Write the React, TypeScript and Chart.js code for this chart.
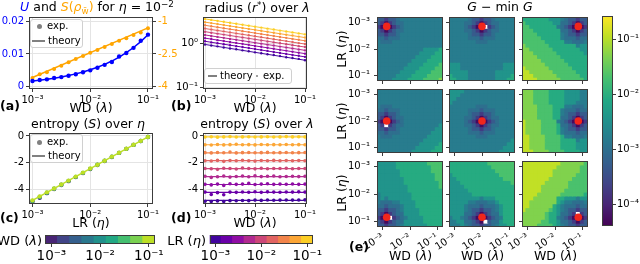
import React, { useEffect, useRef } from 'react';
import { Chart, registerables } from 'chart.js';

Chart.register(...registerables);

// ======================= DATA =======================
const LAMBDA = [0.001, 0.001334, 0.001778, 0.002371, 0.003162, 0.004217, 0.005623, 0.007499, 0.01, 0.01334, 0.01778, 0.02371, 0.03162, 0.04217, 0.05623, 0.07499, 0.1];
const ETA = [0.001, 0.001334, 0.001778, 0.002371, 0.003162, 0.004217, 0.005623, 0.007499, 0.01, 0.01334, 0.01778, 0.02371, 0.03162, 0.04217, 0.05623, 0.07499, 0.1];
const LINE_ENDS = [0.001, 0.1];
const LOG_TICKS = [0.001, 0.01, 0.1];
const LOG_TICK_LABELS = ['10⁻³', '10⁻²', '10⁻¹'];
const BLANK_LABELS = ['', '', ''];

// (a) U and S(rho_w) vs WD, eta = 1e-2
const U_EXP = [0.0016, 0.0019, 0.0021, 0.0025, 0.0028, 0.0032, 0.0037, 0.0043, 0.0049, 0.0057, 0.0066, 0.0075, 0.0092, 0.0103, 0.0119, 0.0141, 0.016];
const U_THEORY = [0.0016, 0.00185, 0.00213, 0.00246, 0.00285, 0.00329, 0.0038, 0.00438, 0.00506, 0.00584, 0.00675, 0.00779, 0.009, 0.0104, 0.012, 0.01385, 0.016];
const S_RHO_EXP = [-3.62, -3.45, -3.35, -3.2, -3.05, -2.89, -2.74, -2.59, -2.44, -2.32, -2.18, -2.03, -1.88, -1.76, -1.61, -1.5, -1.3];
const S_RHO_THEORY = [-3.6, -1.28];
const U_TICKS = [0, 0.01, 0.02];
const U_TICK_LABELS = ['0', '0.01', '0.02'];
const S_RHO_TICKS = [-4, -2.5, -1];
const S_RHO_TICK_LABELS = ['-4', '-2.5', '-1'];

// (b) radius r* over lambda, one series per LR (eta from 1e-3 to 1e-1)
const R_EXP_ETA_1 = [0.94, 0.89, 0.85, 0.8, 0.76, 0.73, 0.69, 0.66, 0.62, 0.59, 0.56, 0.54, 0.51, 0.48, 0.46, 0.44, 0.41];
const R_EXP_ETA_2 = [1.11, 1.05, 1.0, 0.95, 0.9, 0.86, 0.82, 0.78, 0.74, 0.7, 0.67, 0.63, 0.6, 0.57, 0.54, 0.52, 0.49];
const R_EXP_ETA_3 = [1.31, 1.25, 1.18, 1.13, 1.07, 1.02, 0.97, 0.92, 0.87, 0.83, 0.79, 0.75, 0.71, 0.68, 0.64, 0.61, 0.58];
const R_EXP_ETA_4 = [1.55, 1.47, 1.4, 1.33, 1.26, 1.2, 1.14, 1.09, 1.03, 0.98, 0.93, 0.89, 0.84, 0.8, 0.76, 0.72, 0.69];
const R_EXP_ETA_5 = [1.84, 1.74, 1.66, 1.58, 1.5, 1.42, 1.35, 1.29, 1.22, 1.16, 1.1, 1.05, 1.0, 0.95, 0.9, 0.86, 0.82];
const R_EXP_ETA_6 = [2.17, 2.06, 1.96, 1.87, 1.77, 1.68, 1.6, 1.52, 1.45, 1.38, 1.31, 1.24, 1.18, 1.12, 1.07, 1.01, 0.96];
const R_EXP_ETA_7 = [2.57, 2.44, 2.32, 2.21, 2.1, 1.99, 1.89, 1.8, 1.71, 1.63, 1.55, 1.47, 1.39, 1.33, 1.26, 1.2, 1.14];
const R_EXP_ETA_8 = [3.04, 2.89, 2.75, 2.61, 2.48, 2.36, 2.24, 2.13, 2.03, 1.93, 1.83, 1.74, 1.65, 1.57, 1.5, 1.42, 1.35];
const R_EXP_ETA_9 = [3.6, 3.42, 3.25, 3.09, 2.94, 2.79, 2.65, 2.52, 2.4, 2.28, 2.16, 2.06, 1.95, 1.86, 1.77, 1.68, 1.6];
const R_THEORY_START = [0.94, 1.11, 1.31, 1.55, 1.84, 2.17, 2.57, 3.04, 3.6];
const R_THEORY_END = [0.41, 0.49, 0.58, 0.69, 0.82, 0.96, 1.14, 1.35, 1.6];
const R_TICKS = [0.1, 1];
const R_TICK_LABELS = ['10⁻¹', '10⁰'];

// (c) entropy S over eta (a few WD series)
const S_ETA_WD_1 = [-4.92, -4.63, -4.28, -3.97, -3.67, -3.38, -3.08, -2.78, -2.48, -2.17, -1.87, -1.57, -1.27, -0.97, -0.67, -0.38, -0.08];
const S_ETA_WD_5 = [-4.87, -4.57, -4.25, -3.95, -3.65, -3.36, -3.06, -2.76, -2.46, -2.16, -1.86, -1.56, -1.27, -0.97, -0.67, -0.38, -0.08];
const S_ETA_WD_9 = [-4.82, -4.52, -4.22, -3.93, -3.63, -3.34, -3.04, -2.74, -2.44, -2.15, -1.85, -1.55, -1.26, -0.96, -0.66, -0.37, -0.07];
const S_ETA_THEORY = [-4.82, -0.07];
const S_TICKS = [-4, -2, 0];
const S_TICK_LABELS = ['-4', '-2', '0'];

// (d) entropy S over lambda, one series per LR
const S_LAM_ETA_1 = [-4.88, -4.9, -4.86, -4.9, -4.84, -4.85, -4.83, -4.84, -4.8, -4.82, -4.79, -4.81, -4.8, -4.79, -4.8, -4.79, -4.78];
const S_LAM_ETA_2 = [-4.2, -4.38, -4.24, -4.4, -4.2, -4.22, -4.19, -4.21, -4.17, -4.22, -4.18, -4.2, -4.21, -4.19, -4.2, -4.18, -4.2];
const S_LAM_ETA_3 = [-3.62, -3.66, -3.6, -3.7, -3.58, -3.62, -3.6, -3.55, -3.63, -3.6, -3.58, -3.62, -3.6, -3.61, -3.59, -3.62, -3.6];
const S_LAM_ETA_4 = [-3.02, -3.1, -3.05, -3.0, -3.08, -3.03, -3.0, -3.05, -2.98, -3.04, -3.02, -3.0, -3.05, -3.03, -3.01, -3.04, -3.02];
const S_LAM_ETA_5 = [-2.43, -2.45, -2.5, -2.42, -2.44, -2.47, -2.4, -2.44, -2.46, -2.42, -2.45, -2.43, -2.44, -2.42, -2.45, -2.43, -2.44];
const S_LAM_ETA_6 = [-1.85, -1.87, -1.83, -1.9, -1.84, -1.86, -1.82, -1.85, -1.88, -1.84, -1.85, -1.83, -1.86, -1.84, -1.85, -1.84, -1.86];
const S_LAM_ETA_7 = [-1.25, -1.27, -1.24, -1.26, -1.2, -1.27, -1.25, -1.24, -1.26, -1.25, -1.23, -1.26, -1.25, -1.24, -1.26, -1.25, -1.24];
const S_LAM_ETA_8 = [-0.66, -0.68, -0.64, -0.67, -0.65, -0.62, -0.66, -0.65, -0.67, -0.64, -0.66, -0.65, -0.66, -0.64, -0.66, -0.65, -0.66];
const S_LAM_ETA_9 = [-0.08, -0.06, -0.09, -0.07, -0.05, -0.08, -0.07, -0.06, -0.08, -0.07, -0.06, -0.08, -0.07, -0.05, -0.07, -0.06, -0.07];
const S_LAM_THEORY = [-4.82, -4.22, -3.63, -3.04, -2.44, -1.85, -1.26, -0.66, -0.07];

// colourbar levels (9 discrete values)
const LEVELS_9 = [0.001, 0.001778, 0.003162, 0.005623, 0.01, 0.01778, 0.03162, 0.05623, 0.1];

// (e) G - min G heat maps: digit = level (see HEAT_LEVEL_LOG10), x = exact zero (white)
const HEAT_LEVEL_LOG10 = [-4.3, -3.75, -3.3, -3.0, -2.8, -2.425, -2.05, -1.675, -1.3, -0.925];
const HEAT_1_1 = ['22122344444444444', '21012334444444444', '10x01234444444444', '21012334444444444', '22122344444444444', '33233344444444444', '43334444444444444', '44444444444444444', '44444444444455556', '44444444444555566', '44444444445555666', '44444444455556666', '44444444555566667', '44444445555666677', '44444455556666777', '44444555566667777', '44445555666677778'];
const HEAT_1_2 = ['44444322122344444', '44443321012334444', '444432100x1234444', '44443321012334444', '44444322122344444', '44444333233344444', '44444443334444444', '44444444444444444', '44444444444444444', '44444444444444444', '44444444444444444', '44444444444444444', '55544444444444555', '55544444444444555', '55555444444455555', '65555444444455556', '66555444444455566'];
const HEAT_1_3 = ['66666665554322122', '76666666553321012', '77666666643210x01', '77766666663321012', '77776666664322122', '77777666664333233', '77777766666443334', '87777776666666455', '88777777666666655', '88877777766666665', '88887777776666666', '88888777777666666', '88888877777766666', '98888887777776666', '99888888777777666', '99988888877777766', '99998888887777776'];
const HEAT_2_1 = ['44444444444444444', '44444444444444444', '44444444444444444', '44444444444444444', '43334444444444444', '33233344444444444', '22122344444444444', '21012334444444444', '10001234444444444', '21x12334444444445', '22122344444444455', '33233344444444555', '43334444444445555', '44444444444455555', '44444444444555556', '44444444445555566', '44444444455555666'];
const HEAT_2_2 = ['55554444444444444', '55544444444444444', '55444444444444444', '54444444444444444', '44444443334444444', '44444333233344444', '44444322122344444', '44443321012334444', '44443210x01234444', '44443321012334444', '44444322122344444', '44444333233344444', '44444443334444444', '44444444444444445', '44444444444444455', '44444444444444555', '44444444444445555'];
const HEAT_2_3 = ['88877776666555544', '88877776666555544', '88877776666555544', '88877776666555444', '88887777666443334', '88887777664333233', '88887777664322122', '88887777663321012', '98888777743210x01', '98888777763321012', '98888777764322122', '98888777764333233', '99888877776443334', '99888877776666455', '99888877776666555', '99888877776666555', '99988887777666655'];
const HEAT_3_1 = ['55555666666667777', '55555666666666777', '55555566666666777', '55555566666666677', '55555556666666677', '55555556666666667', '55555555666666667', '55555555666666666', '45555555566666666', '45455555566666666', '43334455556666666', '33233345556666666', '22122345555666666', '21012335555666666', '100x1234555566666', '21012335555566666', '22122345555556666'];
const HEAT_3_2 = ['66666666667777777', '66666666666777777', '66666666666677777', '56666666666667777', '55666666666666777', '55566666666666667', '55556666666666666', '55555666666666666', '55555566666666666', '55555555455566666', '55555443334456666', '55554333233345666', '55554322122345666', '55553321012335666', '45543210001234666', '445533210x2335666', '44454322122345566'];
const HEAT_3_3 = ['99999999998888887', '99999999988888877', '99999999888888877', '99999999888888777', '99999998888887777', '99999988888877777', '99999888888877777', '99999888888777777', '99998888887777776', '99988888866555455', '99888888865443334', '99888888654333233', '98888887654322122', '88888876653321x12', '88888876643210001', '88888776653321012', '88887777654322122'];
const OPT_LAMBDA_IDX = [2, 8, 14];
const OPT_ETA_IDX = [2, 8, 14];
const HEAT_TICK_CELLS = [1, 8, 15];
const CBAR_LOG_MIN = -4.4;
const CBAR_LOG_MAX = -0.566;
const CBAR_TICKS = [1e-4, 1e-3, 1e-2, 1e-1];
const CBAR_TICK_LABELS = ['10⁻⁴', '10⁻³', '10⁻²', '10⁻¹'];

// ======================= STYLE =======================
const FONT = '"DejaVu Sans", sans-serif';
const TEXT = '#000000';
const FRAME = '#3c3c3c';
const GRID = '#e4e4e4';
const BLUE = '#0000ff';
const ORANGE = '#ffa500';
const GRAY = '#808080';
const RED = '#f0261c';
const VIRIDIS = ['#440154', '#482475', '#414487', '#355f8d', '#2a788e', '#21918c', '#22a884', '#44bf70', '#7ad151', '#bddf26', '#fde725'];
const PLASMA = ['#0d0887', '#41049d', '#6a00a8', '#8f0da4', '#b12a90', '#cc4778', '#e16462', '#f2844b', '#fca636', '#fcce25', '#f0f921'];
const ETA_COLORS = PLASMA.slice(1, 10);
const WD_COLORS = VIRIDIS.slice(1, 10);

Chart.defaults.font.family = FONT;
Chart.defaults.color = TEXT;

function hexRgb(h: string) {
  const n = parseInt(h.slice(1), 16);
  return [(n >> 16) & 255, (n >> 8) & 255, n & 255];
}
function cmap(stops: string[], t: number) {
  const tt = Math.max(0, Math.min(1, t)) * (stops.length - 1);
  const i = Math.min(stops.length - 2, Math.floor(tt));
  const f = tt - i;
  const a = hexRgb(stops[i]);
  const b = hexRgb(stops[i + 1]);
  const c = a.map((v, k) => Math.round(v + (b[k] - v) * f));
  return `rgb(${c[0]},${c[1]},${c[2]})`;
}
function heatColor(ch: string) {
  if (ch === 'x') return '#ffffff';
  const L = HEAT_LEVEL_LOG10[Number(ch)];
  return cmap(VIRIDIS, (L - CBAR_LOG_MIN) / (CBAR_LOG_MAX - CBAR_LOG_MIN));
}

const framePlugin: any = {
  id: 'frame',
  afterDraw(chart: any, _a: any, opts: any) {
    if (!opts || !opts.color) return;
    const { ctx, chartArea: a } = chart;
    ctx.save();
    ctx.strokeStyle = opts.color;
    ctx.lineWidth = 1;
    const l = Math.round(a.left) + 0.5;
    const t = Math.round(a.top) + 0.5;
    const r = Math.round(a.right) - 0.5;
    const b = Math.round(a.bottom) - 0.5;
    ctx.strokeRect(l, t, r - l, b - t);
    ctx.restore();
  },
};

function fixTicks(values: number[]) {
  return (s: any) => {
    s.ticks = values.map((v) => ({ value: v }));
  };
}
function labeler(values: number[], labels: string[]) {
  return (v: any) => {
    for (let i = 0; i < values.length; i++) {
      if (Math.abs(values[i] - v) <= 1e-6 * Math.abs(values[i]) + 1e-12) return labels[i];
    }
    return '';
  };
}
function ax(o: any) {
  const vertical = o.position === 'left' || o.position === 'right';
  return {
    type: o.type || 'linear',
    position: o.position,
    min: o.min,
    max: o.max,
    offset: false,
    afterBuildTicks: fixTicks(o.ticks),
    afterFit: (s: any) => {
      if (vertical) s.width = o.size;
      else s.height = o.size;
    },
    ticks: {
      autoSkip: false,
      maxRotation: o.rot || 0,
      minRotation: o.rot || 0,
      padding: o.pad ?? 2,
      color: o.color || TEXT,
      font: { family: FONT, size: o.font || 10 },
      callback: labeler(o.ticks, o.labels),
    },
    grid: { display: true, offset: false, drawOnChartArea: !!o.grid, color: GRID, tickColor: FRAME, tickLength: 3, lineWidth: 1 },
    border: { display: false },
  };
}
function base(pad: any) {
  return {
    responsive: false,
    animation: false,
    events: [],
    devicePixelRatio: 1,
    layout: { padding: pad },
    plugins: { legend: { display: false }, tooltip: { enabled: false }, frame: { color: FRAME } },
  };
}
function pts(xs: number[], ys: number[]) {
  return xs.map((x, i) => ({ x, y: ys[i] }));
}

// ======================= LAYOUT BOXES =======================
const BOX_A = { x: 29, y: 15, w: 124, h: 74, l: 29, r: 27, t: 6, b: 14 };
const BOX_B = { x: 203, y: 15, w: 104, h: 74, l: 33, r: 12, t: 6, b: 14 };
const BOX_C = { x: 29, y: 131, w: 124, h: 73, l: 29, r: 12, t: 6, b: 14 };
const BOX_D = { x: 203, y: 131, w: 104, h: 73, l: 33, r: 12, t: 6, b: 14 };
const BOX_WD = { x: 45, y: 235, w: 110, h: 9, l: 10, r: 14, t: 2, b: 20 };
const BOX_LR = { x: 209, y: 235, w: 104, h: 9, l: 10, r: 14, t: 2, b: 20 };
const BOX_CB = { x: 602, y: 15, w: 11, h: 212, l: 4, r: 27, t: 6, b: 6 };
const HX = [377, 449, 522];
const HY = [15, 87, 159];
function heatBox(r: number, c: number) {
  return { x: HX[c], y: HY[r], w: 67, h: 68, l: c === 0 ? 42 : 24, r: 3, t: 8, b: r === 2 ? 24 : 8 };
}

// ======================= CONFIGS =======================
function configA() {
  const b = BOX_A;
  return {
    type: 'scatter',
    data: {
      datasets: [
        { data: pts(LAMBDA, U_EXP), showLine: false, pointRadius: 2.2, pointBackgroundColor: BLUE, pointBorderWidth: 0, yAxisID: 'y', order: 1 },
        { data: pts(LAMBDA, S_RHO_EXP), showLine: false, pointRadius: 2, pointBackgroundColor: ORANGE, pointBorderWidth: 0, yAxisID: 'y2', order: 2 },
        { data: pts(LAMBDA, U_THEORY), showLine: true, borderColor: BLUE, borderWidth: 1.5, pointRadius: 0, yAxisID: 'y', order: 3 },
        { data: pts(LINE_ENDS, S_RHO_THEORY), showLine: true, borderColor: ORANGE, borderWidth: 1.5, pointRadius: 0, yAxisID: 'y2', order: 4 },
      ],
    },
    options: {
      ...base({ left: 0, right: 0, top: b.t, bottom: 0 }),
      scales: {
        x: ax({ type: 'logarithmic', position: 'bottom', min: 10 ** -3.06, max: 10 ** -0.913, ticks: LOG_TICKS, labels: LOG_TICK_LABELS, size: b.b, grid: true }),
        y: ax({ position: 'left', min: -0.00091, max: 0.0215, ticks: U_TICKS, labels: U_TICK_LABELS, size: b.l, color: BLUE, grid: true }),
        y2: ax({ position: 'right', min: -4.136, max: -0.773, ticks: S_RHO_TICKS, labels: S_RHO_TICK_LABELS, size: b.r, color: ORANGE }),
      },
    },
    plugins: [framePlugin],
  };
}

function configB() {
  const b = BOX_B;
  const R_EXP = [R_EXP_ETA_1, R_EXP_ETA_2, R_EXP_ETA_3, R_EXP_ETA_4, R_EXP_ETA_5, R_EXP_ETA_6, R_EXP_ETA_7, R_EXP_ETA_8, R_EXP_ETA_9];
  const datasets: any[] = [];
  R_EXP.forEach((ys, k) => {
    datasets.push({ data: pts(LINE_ENDS, [R_THEORY_START[k], R_THEORY_END[k]]), showLine: true, borderColor: ETA_COLORS[k], borderWidth: 1, pointRadius: 0, order: 20 });
    datasets.push({ data: pts(LAMBDA, ys), showLine: false, pointRadius: 1.2, pointBackgroundColor: ETA_COLORS[k], pointBorderWidth: 0, order: 10 });
  });
  return {
    type: 'scatter',
    data: { datasets },
    options: {
      ...base({ left: 0, right: b.r, top: b.t, bottom: 0 }),
      scales: {
        x: ax({ type: 'logarithmic', position: 'bottom', min: 10 ** -3.04, max: 10 ** -0.96, ticks: LOG_TICKS, labels: LOG_TICK_LABELS, size: b.b, grid: true }),
        y: ax({ type: 'logarithmic', position: 'left', min: 10 ** -1.044, max: 10 ** 0.6, ticks: R_TICKS, labels: R_TICK_LABELS, size: b.l, grid: true }),
      },
    },
    plugins: [framePlugin],
  };
}

function configC() {
  const b = BOX_C;
  return {
    type: 'scatter',
    data: {
      datasets: [
        { data: pts(LINE_ENDS, S_ETA_THEORY), showLine: true, borderColor: WD_COLORS[8], borderWidth: 1.5, pointRadius: 0, order: 1 },
        { data: pts(ETA, S_ETA_WD_9), showLine: false, pointRadius: 2.2, pointBackgroundColor: WD_COLORS[8], pointBorderWidth: 0, order: 2 },
        { data: pts(ETA, S_ETA_WD_5), showLine: false, pointRadius: 2.2, pointBackgroundColor: WD_COLORS[4], pointBorderWidth: 0, order: 3 },
        { data: pts(ETA, S_ETA_WD_1), showLine: false, pointRadius: 2.2, pointBackgroundColor: WD_COLORS[0], pointBorderWidth: 0, order: 4 },
      ],
    },
    options: {
      ...base({ left: 0, right: b.r, top: b.t, bottom: 0 }),
      scales: {
        x: ax({ type: 'logarithmic', position: 'bottom', min: 10 ** -3.06, max: 10 ** -0.913, ticks: LOG_TICKS, labels: LOG_TICK_LABELS, size: b.b, grid: true }),
        y: ax({ position: 'left', min: -5.09, max: 0.22, ticks: S_TICKS, labels: S_TICK_LABELS, size: b.l, grid: true }),
      },
    },
    plugins: [framePlugin],
  };
}

function configD() {
  const b = BOX_D;
  const S_EXP = [S_LAM_ETA_1, S_LAM_ETA_2, S_LAM_ETA_3, S_LAM_ETA_4, S_LAM_ETA_5, S_LAM_ETA_6, S_LAM_ETA_7, S_LAM_ETA_8, S_LAM_ETA_9];
  const datasets: any[] = [];
  S_EXP.forEach((ys, k) => {
    datasets.push({ data: pts(LINE_ENDS, [S_LAM_THEORY[k], S_LAM_THEORY[k]]), showLine: true, borderColor: ETA_COLORS[k], borderWidth: 1.2, pointRadius: 0, order: 20 });
    datasets.push({ data: pts(LAMBDA, ys), showLine: false, pointRadius: 1.8, pointBackgroundColor: ETA_COLORS[k], pointBorderWidth: 0, order: 10 });
  });
  return {
    type: 'scatter',
    data: { datasets },
    options: {
      ...base({ left: 0, right: b.r, top: b.t, bottom: 0 }),
      scales: {
        x: ax({ type: 'logarithmic', position: 'bottom', min: 10 ** -3.04, max: 10 ** -0.96, ticks: LOG_TICKS, labels: LOG_TICK_LABELS, size: b.b, grid: true }),
        y: ax({ position: 'left', min: -5.09, max: 0.22, ticks: S_TICKS, labels: S_TICK_LABELS, size: b.l, grid: true }),
      },
    },
    plugins: [framePlugin],
  };
}

function configLevels(b: any, colors: string[]) {
  return {
    type: 'bar',
    data: {
      datasets: [
        { data: LEVELS_9.map((_, k) => ({ x: k, y: 1 })), backgroundColor: colors, borderWidth: 0, barPercentage: 1, categoryPercentage: 1, inflateAmount: 0.5 },
      ],
    },
    options: {
      ...base({ left: b.l, right: b.r, top: b.t, bottom: 0 }),
      scales: {
        x: ax({ type: 'linear', position: 'bottom', min: -0.5, max: 8.5, ticks: [0, 4, 8], labels: LOG_TICK_LABELS, size: b.b, font: 13.5, pad: 1 }),
        y: { display: false, min: 0, max: 1 },
      },
    },
    plugins: [framePlugin],
  };
}

function configCbar() {
  const b = BOX_CB;
  return {
    type: 'bar',
    data: {
      labels: ['G'],
      datasets: [
        {
          data: [[10 ** CBAR_LOG_MIN, 10 ** CBAR_LOG_MAX]],
          backgroundColor: (ctx: any) => {
            const chart = ctx.chart;
            const a = chart.chartArea;
            if (!a) return VIRIDIS[5];
            const g = chart.ctx.createLinearGradient(0, a.bottom, 0, a.top);
            VIRIDIS.forEach((c, i) => g.addColorStop(i / (VIRIDIS.length - 1), c));
            return g;
          },
          borderWidth: 0,
          barPercentage: 1,
          categoryPercentage: 1,
        },
      ],
    },
    options: {
      ...base({ left: b.l, right: 0, top: b.t, bottom: b.b }),
      scales: {
        x: { display: false },
        y: ax({ type: 'logarithmic', position: 'right', min: 10 ** CBAR_LOG_MIN, max: 10 ** CBAR_LOG_MAX, ticks: CBAR_TICKS, labels: CBAR_TICK_LABELS, size: b.r, font: 10, pad: 1 }),
      },
    },
    plugins: [framePlugin],
  };
}

const HEAT_MAPS = [
  [HEAT_1_1, HEAT_1_2, HEAT_1_3],
  [HEAT_2_1, HEAT_2_2, HEAT_2_3],
  [HEAT_3_1, HEAT_3_2, HEAT_3_3],
];

function heatConfig(r: number, c: number) {
  const b = heatBox(r, c);
  const rows = HEAT_MAPS[r][c];
  const datasets: any[] = rows.map((row: string, i: number) => ({
    type: 'bar',
    data: row.split('').map((_: string, j: number) => ({ x: j, y: [16 - i, 17 - i] })),
    backgroundColor: row.split('').map(heatColor),
    borderWidth: 0,
    grouped: false,
    barPercentage: 1,
    categoryPercentage: 1,
    inflateAmount: 0.5,
    order: 2,
  }));
  datasets.push({
    type: 'scatter',
    data: [{ x: OPT_LAMBDA_IDX[c], y: 16.5 - OPT_ETA_IDX[r] }],
    pointRadius: 3.8,
    pointBackgroundColor: RED,
    pointBorderWidth: 0,
    order: 1,
  });
  return {
    type: 'bar',
    data: { datasets },
    options: {
      ...base({ left: 0, right: b.r, top: b.t, bottom: 0 }),
      scales: {
        x: ax({ type: 'linear', position: 'bottom', min: -0.5, max: 16.5, ticks: HEAT_TICK_CELLS, labels: r === 2 ? LOG_TICK_LABELS : BLANK_LABELS, size: b.b, rot: r === 2 ? 33 : 0, pad: 1 }),
        y: ax({ type: 'linear', position: 'left', min: 0, max: 17, ticks: HEAT_TICK_CELLS.map((k) => 16.5 - k), labels: c === 0 ? LOG_TICK_LABELS : BLANK_LABELS, size: b.l, pad: 4 }),
      },
    },
    plugins: [framePlugin],
  };
}

// ======================= COMPONENTS =======================
function ChartBox({ box, make }: any) {
  const ref = useRef<HTMLCanvasElement>(null);
  useEffect(() => {
    const chart = new Chart(ref.current as any, make());
    return () => chart.destroy();
  }, []);
  const W = box.l + box.w + box.r;
  const H = box.t + box.h + box.b;
  return (
    <div style={{ position: 'absolute', left: box.x - box.l, top: box.y - box.t, width: W, height: H }}>
      <canvas ref={ref} width={W} height={H} style={{ width: W, height: H, display: 'block' }} />
    </div>
  );
}

const SUP: any = { fontSize: '0.7em', verticalAlign: '0.45em', lineHeight: 0 };
const SUB: any = { fontSize: '0.7em', verticalAlign: '-0.3em', lineHeight: 0 };

function Txt({ x, y, children, size = 12.5, align = 'center', bold = false, color = TEXT, rotate = false }: any) {
  const tx = align === 'center' ? '-50%' : align === 'right' ? '-100%' : '0';
  const style: any = {
    position: 'absolute',
    left: x,
    top: y,
    fontSize: size,
    fontWeight: bold ? 'bold' : 'normal',
    color,
    whiteSpace: 'nowrap',
    lineHeight: 1,
    fontFamily: FONT,
    transform: rotate ? 'translate(-50%, -50%) rotate(-90deg)' : `translateX(${tx})`,
  };
  return <div style={style}>{children}</div>;
}
function Dot({ x, y, r = 2.5, color = GRAY }: any) {
  return <div style={{ position: 'absolute', left: x - r, top: y - r, width: 2 * r, height: 2 * r, borderRadius: '50%', background: color }} />;
}
function HLine({ x1, x2, y, color = GRAY }: any) {
  return <div style={{ position: 'absolute', left: x1, top: y - 0.75, width: x2 - x1, height: 1.5, background: color }} />;
}
function LegendBox({ x, y, w, h }: any) {
  return <div style={{ position: 'absolute', left: x, top: y, width: w, height: h, border: '1px solid #d0d0d0', borderRadius: 3, background: 'rgba(255,255,255,0.85)', boxSizing: 'border-box' }} />;
}

export default function App() {
  return (
    <div style={{ position: 'absolute', left: 0, top: 0, width: 640, height: 264, overflow: 'hidden', background: '#ffffff', fontFamily: FONT, color: TEXT }}>
      <ChartBox box={BOX_A} make={configA} />
      <ChartBox box={BOX_B} make={configB} />
      <ChartBox box={BOX_C} make={configC} />
      <ChartBox box={BOX_D} make={configD} />
      <ChartBox box={BOX_WD} make={() => configLevels(BOX_WD, WD_COLORS)} />
      <ChartBox box={BOX_LR} make={() => configLevels(BOX_LR, ETA_COLORS)} />
      <ChartBox box={BOX_CB} make={configCbar} />
      {[0, 1, 2].map((r) => [0, 1, 2].map((c) => <ChartBox key={`h${r}${c}`} box={heatBox(r, c)} make={() => heatConfig(r, c)} />))}

      {/* titles */}
      <Txt x={97} y={1}>
        <span style={{ color: BLUE }}><i>U</i></span> and{' '}
        <span style={{ color: ORANGE }}><i>S</i>(<i>ρ</i><span style={SUB}>w̄</span>)</span> for <i>η</i> = 10<span style={SUP}>−2</span>
      </Txt>
      <Txt x={257} y={2}>radius (<i>r</i><span style={SUP}>*</span>) over <i>λ</i></Txt>
      <Txt x={88} y={118}>entropy (<i>S</i>) over <i>η</i></Txt>
      <Txt x={257} y={118}>entropy (<i>S</i>) over <i>λ</i></Txt>
      <Txt x={500} y={1}><i>G</i> − min <i>G</i></Txt>

      {/* axis labels */}
      <Txt x={91} y={102}>WD (<i>λ</i>)</Txt>
      <Txt x={255} y={102}>WD (<i>λ</i>)</Txt>
      <Txt x={91} y={217}>LR (<i>η</i>)</Txt>
      <Txt x={255} y={217}>WD (<i>λ</i>)</Txt>
      <Txt x={42} y={234} align="right" size={13}>WD (<i>λ</i>)</Txt>
      <Txt x={206} y={234} align="right" size={13}>LR (<i>η</i>)</Txt>
      {HY.map((y, r) => (
        <Txt key={`lr${r}`} x={342} y={y + 34} rotate>LR (<i>η</i>)</Txt>
      ))}
      {HX.map((x, c) => (
        <Txt key={`wd${c}`} x={x + 33.5} y={250}>WD (<i>λ</i>)</Txt>
      ))}

      {/* panel letters */}
      <Txt x={0} y={100} align="left" bold>(a)</Txt>
      <Txt x={171} y={100} align="left" bold>(b)</Txt>
      <Txt x={0} y={212} align="left" bold>(c)</Txt>
      <Txt x={171} y={212} align="left" bold>(d)</Txt>
      <Txt x={349} y={241} align="left" bold>(e)</Txt>

      {/* legends */}
      <LegendBox x={30} y={19} w={53} h={29} />
      <Dot x={39} y={26} />
      <Txt x={47} y={21} size={10} align="left">exp.</Txt>
      <HLine x1={32} x2={45} y={41} />
      <Txt x={48} y={36} size={10} align="left">theory</Txt>

      <LegendBox x={204} y={68} w={88} h={16} />
      <HLine x1={208} x2={217} y={76} />
      <Txt x={220} y={71} size={10} align="left">theory</Txt>
      <Dot x={257} y={76} r={1.3} />
      <Txt x={263} y={71} size={10} align="left">exp.</Txt>

      <LegendBox x={30} y={134} w={53} h={29} />
      <Dot x={39} y={142} />
      <Txt x={47} y={137} size={10} align="left">exp.</Txt>
      <HLine x1={32} x2={45} y={156} />
      <Txt x={48} y={151} size={10} align="left">theory</Txt>
    </div>
  );
}
